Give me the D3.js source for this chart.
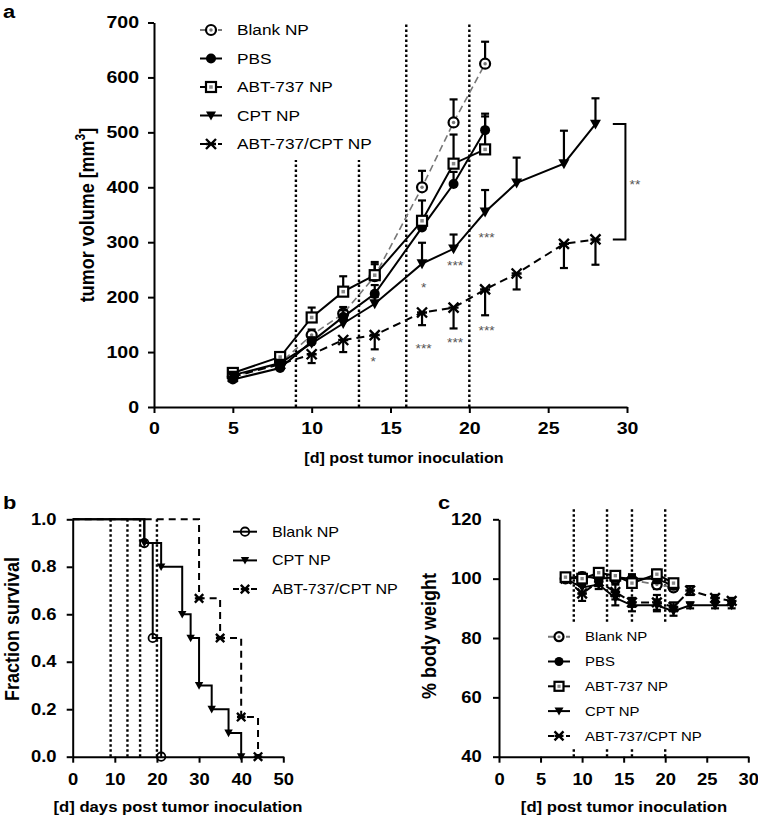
<!DOCTYPE html>
<html lang="en">
<head>
<meta charset="UTF-8">
<title>tumor volume, survival and body weight</title>
<script src="https://cdn.jsdelivr.net/npm/d3@7"></script>
<style>
  body { margin: 0; background: #fff; }
  svg { font-family: "Liberation Sans", Arial, sans-serif; }
  .axis path, .axis line { stroke: #000; stroke-width: 2px; }
  .axis text { font-weight: bold; fill: #000; }
  .dose { stroke: #000; stroke-width: 2.4px; stroke-dasharray: 2.5,2.5; fill: none; }
</style>
</head>
<body>
<svg id="fig" width="758" height="820"></svg>
<script>
// the source figure is a little wider than tall, so text gets stretched sideways
var SX = 1.15;

var dosingDays = [9, 13, 16, 20];
var seriesNames = ['Blank NP', 'PBS', 'ABT-737 NP', 'CPT NP', 'ABT-737/CPT NP'];

// a: tumor volume [mm3]
var daysShort = [5, 8, 10, 12, 14, 17, 19, 21];
var daysLong = [5, 8, 10, 12, 14, 17, 19, 21, 23, 26, 28];
var blankVol = [55, 80, 131, 170, 238, 400, 518, 625];
var blankErr = [4, 6, 10, 12, 22, 30, 42, 40];
var pbsVol = [50, 71, 119, 164, 206, 327, 406, 504];
var pbsErr = [3, 5, 8, 12, 16, 18, 22, 30];
var abtVol = [62, 91, 163, 210, 240, 339, 443, 469];
var abtErr = [4, 6, 18, 28, 24, 37, 53, 60];
var cptVol = [58, 80, 116, 152, 188, 261, 288, 355, 408, 443, 515];
var cptErr = [3, 5, 8, 10, 12, 38, 26, 40, 46, 60, 47];
var comboVol = [55, 78, 96, 122, 131, 172, 181, 214, 243, 297, 305];
var comboErr = [3, 5, 16, 22, 26, 23, 38, 47, 29, 44, 46];
var starsA = [[13.9, 87, '*'], [17.1, 111, '***'], [17.1, 222, '*'], [19.1, 122, '***'],
              [19.1, 262, '***'], [21.1, 313, '***'], [21.1, 144, '***']];

// b: fraction survival
var survBlankT = [0, 17, 19, 21];
var survBlank = [1, 0.9, 0.5, 0];
var survCptT = [0, 17, 21, 26, 28, 30, 33, 37, 40];
var survCpt = [1, 0.9, 0.8, 0.6, 0.5, 0.3, 0.2, 0.1, 0];
var survComboT = [0, 30, 35, 40, 44];
var survCombo = [1, 0.667, 0.5, 0.167, 0];

// c: % body weight
var bwDays = [8, 10, 12, 14, 16, 19, 21];
var bwDaysLong = [8, 10, 12, 14, 16, 19, 21, 23, 26, 28];
var bwBlank = [100, 100, 101, 100, 99.5, 98, 97];
var bwPbs = [100, 101, 100, 100.5, 100, 100, 97.5];
var bwAbt = [100.5, 100, 102, 101, 98.5, 101.5, 98.5];
var bwShortErr = [0.5, 1, 1.5, 1.5, 1.5, 1.5, 1];
var bwCpt = [100, 97, 98, 93.5, 91, 91, 89, 91, 91, 91];
var bwCptErr = [0.5, 2, 1.5, 2.5, 2, 2, 1.5, 1, 1, 1];
var bwCombo = [100, 95, 99, 95.5, 92, 92, 90.5, 96, 93.5, 92.5];
var bwComboErr = [0.5, 2.5, 1.5, 2.5, 1.5, 2.5, 1.5, 1.5, 1, 1];

var svg = d3.select('#fig');

var styles = {
	'Blank NP':       { mark: 'openCircle', stroke: '#777', dash: '7,4', width: 1.6 },
	'PBS':            { mark: 'dot',        stroke: '#000', dash: null,  width: 2 },
	'ABT-737 NP':     { mark: 'square',     stroke: '#000', dash: null,  width: 2 },
	'CPT NP':         { mark: 'tri',        stroke: '#000', dash: null,  width: 2 },
	'ABT-737/CPT NP': { mark: 'star',       stroke: '#000', dash: '8,5', width: 2 }
};

function marker(g, type, x, y, r) {
	var m = g.append('g').attr('transform', 'translate(' + x + ',' + y + ')');
	if (type === 'openCircle') {
		m.append('circle').attr('r', r).attr('fill', '#fff').attr('stroke', '#000').attr('stroke-width', 2.2);
		m.append('circle').attr('r', r * 0.35).attr('fill', '#777');
	} else if (type === 'ring') {
		m.append('circle').attr('r', r).attr('fill', 'none').attr('stroke', '#000').attr('stroke-width', 1.8);
	} else if (type === 'dot') {
		m.append('circle').attr('r', r).attr('fill', '#000');
	} else if (type === 'square') {
		m.append('rect').attr('x', -r).attr('y', -r).attr('width', 2 * r).attr('height', 2 * r)
			.attr('fill', '#fff').attr('stroke', '#000').attr('stroke-width', 2.2);
		m.append('rect').attr('x', -r * 0.35).attr('y', -r * 0.35).attr('width', r * 0.7).attr('height', r * 0.7)
			.attr('fill', '#888');
	} else if (type === 'tri') {
		m.append('path').attr('d', 'M' + (-r) + ',' + (-r * 0.8) + 'L' + r + ',' + (-r * 0.8) + 'L0,' + r + 'Z')
			.attr('fill', '#000');
	} else if (type === 'star') {
		m.append('path').attr('d', 'M' + (-r) + ',' + (-r) + 'L' + r + ',' + r + 'M' + (-r) + ',' + r + 'L' + r + ',' + (-r) +
				'M' + (-r) + ',0L' + r + ',0')
			.attr('stroke', '#000').attr('stroke-width', 2.4).attr('fill', 'none');
	}
}

function txt(g, x, y, s, fs, anchor, bold, rot) {
	var tf = 'translate(' + x + ',' + y + ')' + (rot ? ' rotate(' + rot + ') scale(1,' + SX + ')' : ' scale(' + SX + ',1)');
	return g.append('text')
		.attr('transform', tf)
		.attr('font-size', fs)
		.attr('font-weight', bold ? 'bold' : 'normal')
		.attr('text-anchor', anchor || 'start')
		.attr('fill', '#000')
		.text(s);
}

function axes(g, x, y, xTicks, yTicks, yFmt, fs, pad) {
	var ax = g.append('g').attr('class', 'axis').attr('transform', 'translate(0,' + y.range()[0] + ')')
		.call(d3.axisBottom(x).tickValues(xTicks).tickSize(6).tickSizeOuter(0).tickPadding(pad[0]));
	var ay = g.append('g').attr('class', 'axis').attr('transform', 'translate(' + x.range()[0] + ',0)')
		.call(d3.axisLeft(y).tickValues(yTicks).tickFormat(yFmt).tickSize(6).tickSizeOuter(0).tickPadding(pad[1]));
	[ax, ay].forEach(function (a) {
		a.attr('font-size', null).attr('font-family', null);
		a.selectAll('text').attr('font-size', fs).attr('transform', 'scale(' + SX + ',1)');
	});
}

function doseLines(g, x, y, lo, hi) {
	g.selectAll(null).data(dosingDays).enter().append('line')
		.attr('class', 'dose')
		.attr('x1', function (d) { return x(d); }).attr('x2', function (d) { return x(d); })
		.attr('y1', y(lo)).attr('y2', y(hi));
}

function series(g, x, y, name, days, vals, errs, dir, r) {
	var st = styles[name];
	var pts = days.map(function (d, i) { return [d, vals[i], errs ? errs[i] : 0]; });
	if (errs) {
		pts.forEach(function (p) {
			var ends = dir === 0 ? [p[1] - p[2], p[1] + p[2]] : [p[1] + dir * p[2]];
			ends.forEach(function (e) {
				g.append('line').attr('x1', x(p[0])).attr('x2', x(p[0])).attr('y1', y(p[1])).attr('y2', y(e))
					.attr('stroke', '#000').attr('stroke-width', 2.2);
				g.append('line').attr('x1', x(p[0]) - 4).attr('x2', x(p[0]) + 4).attr('y1', y(e)).attr('y2', y(e))
					.attr('stroke', '#000').attr('stroke-width', 2.2);
			});
		});
	}
	g.append('path').datum(pts)
		.attr('d', d3.line().x(function (p) { return x(p[0]); }).y(function (p) { return y(p[1]); }))
		.attr('fill', 'none').attr('stroke', st.stroke).attr('stroke-width', st.width)
		.attr('stroke-dasharray', st.dash);
	pts.forEach(function (p) { marker(g, st.mark, x(p[0]), y(p[1]), r); });
}

function legend(g, names, x0, y0, step, fs, r, bg) {
	if (bg) g.append('rect').attr('x', bg[0]).attr('y', bg[1]).attr('width', bg[2]).attr('height', bg[3]).attr('fill', '#fff');
	names.forEach(function (n, i) {
		var st = styles[n], yy = y0 + i * step;
		g.append('line').attr('x1', x0).attr('x2', x0 + 22).attr('y1', yy).attr('y2', yy)
			.attr('stroke', st.stroke).attr('stroke-width', 2)
			.attr('stroke-dasharray', st.dash ? '6,3' : null);
		marker(g, st.mark, x0 + 11, yy, r);
		txt(g, x0 + 37, yy + fs * 0.36, n, fs, 'start', false);
	});
}

// ---------------- panel a ----------------
var ga = svg.append('g');
var xA = d3.scaleLinear().domain([0, 30]).range([154, 627]);
var yA = d3.scaleLinear().domain([0, 700]).range([407, 22.5]);
doseLines(ga, xA, yA, 0, 700);
axes(ga, xA, yA, d3.range(0, 31, 5), d3.range(0, 701, 100), d3.format('d'), 17, [9, 7]);
series(ga, xA, yA, 'Blank NP', daysShort, blankVol, blankErr, 1, 5);
series(ga, xA, yA, 'PBS', daysShort, pbsVol, pbsErr, 1, 5);
series(ga, xA, yA, 'ABT-737 NP', daysShort, abtVol, abtErr, 1, 5);
series(ga, xA, yA, 'CPT NP', daysLong, cptVol, cptErr, 1, 5.5);
series(ga, xA, yA, 'ABT-737/CPT NP', daysLong, comboVol, comboErr, -1, 5);
starsA.forEach(function (s) {
	txt(ga, xA(s[0]), yA(s[1]) + 7, s[2], 12, 'middle', false).attr('fill', '#555');
});
// bracket between CPT NP and ABT-737/CPT NP at day 28
var bTop = yA(cptVol[cptVol.length - 1]), bBot = yA(comboVol[comboVol.length - 1]);
ga.append('path')
	.attr('d', 'M' + xA(29.1) + ',' + bTop + 'H' + xA(29.9) + 'V' + bBot + 'H' + xA(29.1))
	.attr('fill', 'none').attr('stroke', '#000').attr('stroke-width', 2);
txt(ga, xA(30.5), (bTop + bBot) / 2 + 7, '**', 12, 'middle', false).attr('fill', '#555');
legend(ga, seriesNames, 200, 30, 28.5, 15, 5, [193, 14, 197, 146]);
txt(ga, 404, 463, '[d] post tumor inoculation', 14, 'middle', true);
var yt = txt(ga, 94, 215, '', 18, 'middle', true, -90);
yt.append('tspan').text('tumor volume [mm');
yt.append('tspan').attr('dy', -8).attr('font-size', 12).text('3');
yt.append('tspan').attr('dy', 8).text(']');
txt(ga, 3, 18, 'a', 19, 'start', true);

// ---------------- panel b ----------------
var gb = svg.append('g');
var xB = d3.scaleLinear().domain([0, 50]).range([72.7, 283.3]);
var yB = d3.scaleLinear().domain([0, 1]).range([756.7, 519.3]);
doseLines(gb, xB, yB, 0, 1);
axes(gb, xB, yB, d3.range(0, 51, 10), d3.range(0, 1.01, 0.2), d3.format('.1f'), 16, [11, 8]);
var km = d3.line().curve(d3.curveStepAfter).x(function (p) { return xB(p[0]); }).y(function (p) { return yB(p[1]); });
[['ABT-737/CPT NP', survComboT, survCombo, 'star', '7,5'],
 ['CPT NP', survCptT, survCpt, 'tri', null],
 ['Blank NP', survBlankT, survBlank, 'ring', null]].forEach(function (s) {
	var pts = s[1].map(function (t, i) { return [t, s[2][i]]; });
	gb.append('path').datum(pts).attr('d', km)
		.attr('fill', 'none').attr('stroke', '#000').attr('stroke-width', 2).attr('stroke-dasharray', s[4]);
	pts.slice(1).forEach(function (p) { marker(gb, s[3], xB(p[0]), yB(p[1]), 4.2); });
});
(function () {
	var names = ['Blank NP', 'CPT NP', 'ABT-737/CPT NP'];
	var marks = { 'Blank NP': 'ring', 'CPT NP': 'tri', 'ABT-737/CPT NP': 'star' };
	names.forEach(function (n, i) {
		var yy = 531.7 + i * 28.7;
		gb.append('line').attr('x1', 233).attr('x2', 257).attr('y1', yy).attr('y2', yy)
			.attr('stroke', '#000').attr('stroke-width', 2).attr('stroke-dasharray', n === 'ABT-737/CPT NP' ? '6,3' : null);
		marker(gb, marks[n], 245, yy, 4.2);
		txt(gb, 272, yy + 5, n, 14, 'start', false);
	});
})();
txt(gb, 178, 812, '[d] days post tumor inoculation', 14.5, 'middle', true);
txt(gb, 19, 629, 'Fraction survival', 18, 'middle', true, -90);
txt(gb, 3, 509, 'b', 19, 'start', true);

// ---------------- panel c ----------------
var gc = svg.append('g');
var xC = d3.scaleLinear().domain([0, 30]).range([499, 748.3]);
var yC = d3.scaleLinear().domain([40, 120]).range([756.7, 519.3]);
doseLines(gc, xC, yC, 40, 123.8);
axes(gc, xC, yC, d3.range(0, 31, 5), d3.range(40, 121, 20), d3.format('d'), 16, [11, 9]);
series(gc, xC, yC, 'CPT NP', bwDaysLong, bwCpt, bwCptErr, 0, 4.8);
series(gc, xC, yC, 'ABT-737/CPT NP', bwDaysLong, bwCombo, bwComboErr, 0, 4.8);
series(gc, xC, yC, 'Blank NP', bwDays, bwBlank, bwShortErr, 0, 4.8);
series(gc, xC, yC, 'PBS', bwDays, bwPbs, bwShortErr, 0, 4.8);
series(gc, xC, yC, 'ABT-737 NP', bwDays, bwAbt, bwShortErr, 0, 4.8);
legend(gc, seriesNames, 548, 636.7, 24.8, 13, 4.5, [543, 624, 180, 125]);
txt(gc, 624, 812, '[d] post tumor inoculation', 14.5, 'middle', true);
txt(gc, 436, 636, '% body weight', 18, 'middle', true, -90);
txt(gc, 438, 509, 'c', 19, 'start', true);
</script>
</body>
</html>
